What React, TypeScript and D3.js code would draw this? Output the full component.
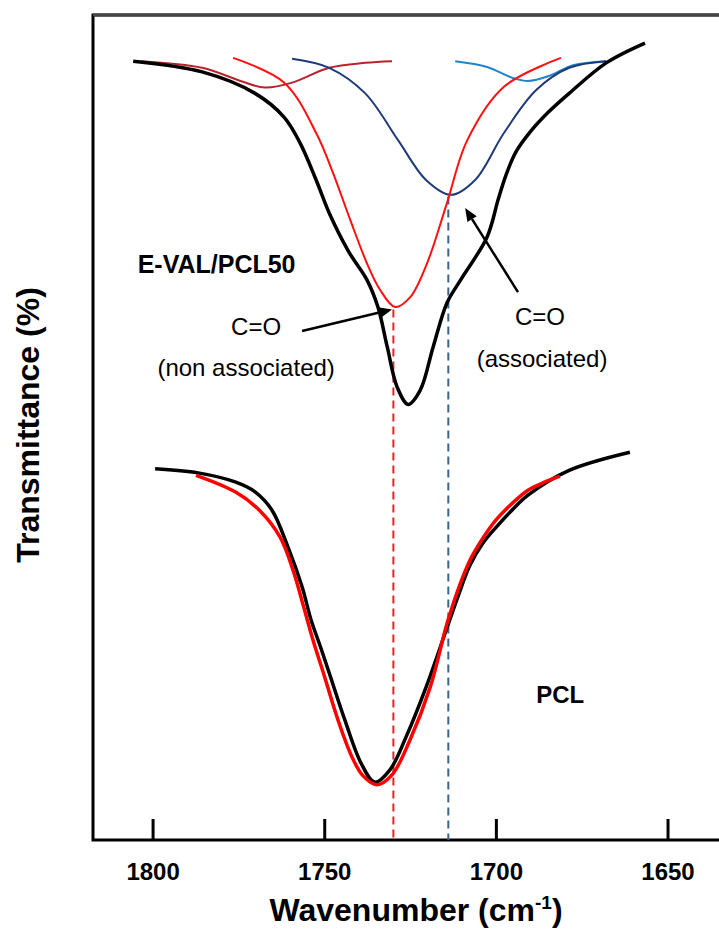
import React from 'react';
import * as d3 from 'd3';

// wavenumber (cm-1) / transmittance (arb. %)
const evalWn = [1805.8, 1785.7, 1770.3, 1761.8, 1757.2, 1752.5, 1748.7, 1743.0, 1737.7, 1734.5, 1731.8, 1728.9, 1725.7, 1722.2, 1718.4, 1714.4, 1710.4, 1702.7, 1699.5, 1697.2, 1694.3, 1690.2, 1684.9, 1678.8, 1668.0, 1656.7];
const evalT = [94.4, 93.1, 90.5, 87.6, 84.5, 80.0, 76.0, 71.3, 67.9, 64.6, 59.8, 54.9, 52.8, 54.5, 59.8, 65.1, 67.9, 73.1, 77.6, 80.6, 83.4, 85.8, 88.2, 90.5, 94.2, 96.6];

const nonAssocWn = [1776.7, 1761.8, 1752.5, 1747.9, 1742.6, 1737.7, 1733.9, 1729.5, 1725.1, 1720.2, 1714.4, 1708.5, 1697.8, 1681.2];
const nonAssocT = [94.8, 91.8, 85.7, 81.2, 75.2, 69.9, 66.7, 64.6, 65.8, 69.9, 77.2, 84.8, 91.3, 94.8];

const assocWn = [1759.5, 1748.7, 1738.2, 1728.6, 1720.5, 1713.2, 1706.2, 1697.8, 1688.4, 1678.8, 1668.0];
const assocT = [94.7, 93.6, 90.5, 84.8, 80.0, 78.2, 80.0, 85.7, 90.9, 93.6, 94.4];

const band1770Wn = [1803.5, 1785.7, 1773.8, 1767.4, 1759.5, 1748.7, 1738.2, 1730.4];
const band1770T = [94.4, 93.6, 91.9, 91.2, 91.8, 93.6, 94.2, 94.4];

const band1690Wn = [1712.0, 1702.7, 1695.4, 1690.8, 1684.7, 1677.7, 1668.0];
const band1690T = [94.4, 93.7, 92.4, 92.0, 92.6, 93.9, 94.4];

const pclWn = [1799.4, 1786.9, 1776.1, 1770.3, 1765.4, 1760.7, 1756.6, 1754.0, 1751.4, 1748.5, 1744.1, 1739.4, 1735.4, 1731.0, 1726.3, 1720.5, 1714.4, 1711.2, 1707.7, 1703.9, 1700.1, 1695.4, 1690.8, 1678.8, 1661.1];
const pclT = [45.0, 44.5, 43.4, 42.2, 40.0, 35.5, 30.7, 26.7, 23.6, 20.0, 14.5, 9.3, 7.0, 8.5, 12.5, 18.5, 25.7, 29.5, 33.3, 36.0, 37.9, 40.0, 41.8, 44.8, 47.0];

const pclFitWn = [1787.5, 1776.1, 1769.1, 1763.0, 1759.0, 1756.3, 1753.4, 1750.2, 1746.1, 1742.1, 1738.9, 1734.8, 1730.4, 1725.2, 1719.3, 1714.4, 1711.2, 1707.7, 1703.9, 1700.1, 1695.4, 1690.8, 1685.8, 1681.5];
const pclFitT = [44.2, 42.2, 40.0, 36.7, 32.4, 28.5, 24.2, 20.0, 14.5, 10.1, 7.8, 6.7, 7.9, 12.1, 18.5, 26.2, 30.3, 33.9, 36.6, 38.8, 40.8, 42.4, 43.4, 44.1];

const xTicks = [1800, 1750, 1700, 1650];

// peak markers: [wavenumber, top transmittance]
const nonAssocPeak = [1730, 64.3];
const assocPeak = [1714, 78.0];

const W = 719;
const H = 939;
const plotLeft = 93;
const plotTop = 15;
const plotBottom = 840;

const App = () => {
    const x = d3.scaleLinear().domain([1817.5, 1630]).range([plotLeft, plotLeft + 187.5 * 3.433]);
    const y = d3.scaleLinear().domain([0, 100]).range([plotBottom, plotTop]);

    const line = d3.line<[number, number]>()
        .x(d => x(d[0]))
        .y(d => y(d[1]))
        .curve(d3.curveCatmullRom.alpha(0.5));

    const zip = (a: number[], b: number[]) => a.map((v, i) => [v, b[i]] as [number, number]);

    const font = 'Liberation Sans, Arial, sans-serif';

    // simple arrow: line with filled head at the tip
    const arrow = (t0: number[], t1: number[], key: string) => {
        const x0 = x(t0[0]), y0 = y(t0[1]);
        const x1 = x(t1[0]), y1 = y(t1[1]);
        const a = Math.atan2(y1 - y0, x1 - x0);
        const len = 13, half = 5.5;
        const bx = x1 - len * Math.cos(a), by = y1 - len * Math.sin(a);
        const p1 = [bx + half * Math.sin(a), by - half * Math.cos(a)];
        const p2 = [bx - half * Math.sin(a), by + half * Math.cos(a)];
        return (
            <g key={key}>
                <line x1={x0} y1={y0} x2={bx} y2={by} stroke="#000" strokeWidth={2.5} />
                <polygon points={`${x1},${y1} ${p1[0]},${p1[1]} ${p2[0]},${p2[1]}`} fill="#000" />
            </g>
        );
    };

    return (
        <svg width={W} height={H} style={{ position: 'absolute', left: 0, top: 0, background: '#fff' }} fontFamily={font}>
            {/* frame (right side runs off the picture) */}
            <path d={`M${W + 5},${plotTop} H${plotLeft} V${plotBottom} H${W + 5}`} fill="none" stroke="#000" strokeWidth={3} />
            <line x1={plotLeft} x2={W + 5} y1={plotTop} y2={plotTop} stroke="#444" strokeWidth={3} />

            {xTicks.map(t => (
                <g key={t}>
                    <line x1={x(t)} x2={x(t)} y1={plotBottom} y2={plotBottom - 21} stroke="#000" strokeWidth={3} />
                    <text x={x(t)} y={880} textAnchor="middle" fontSize={24} fontWeight="bold">{t}</text>
                </g>
            ))}

            {/* peak position guides */}
            <line x1={x(nonAssocPeak[0])} x2={x(nonAssocPeak[0])} y1={y(nonAssocPeak[1])} y2={plotBottom} stroke="#e8212a" strokeWidth={2} strokeDasharray="8,5" />
            <line x1={x(assocPeak[0])} x2={x(assocPeak[0])} y1={y(assocPeak[1])} y2={plotBottom} stroke="#3b6591" strokeWidth={2} strokeDasharray="8,5" />

            {/* E-VAL/PCL50 deconvolution */}
            <path d={line(zip(band1770Wn, band1770T)) || ''} fill="none" stroke="#b8232b" strokeWidth={2} />
            <path d={line(zip(band1690Wn, band1690T)) || ''} fill="none" stroke="#2184c8" strokeWidth={2} />
            <path d={line(zip(assocWn, assocT)) || ''} fill="none" stroke="#1f3a7a" strokeWidth={2} />
            <path d={line(zip(nonAssocWn, nonAssocT)) || ''} fill="none" stroke="#ff1010" strokeWidth={2} />
            <path d={line(zip(evalWn, evalT)) || ''} fill="none" stroke="#000" strokeWidth={3.5} />

            {/* PCL */}
            <path d={line(zip(pclWn, pclT)) || ''} fill="none" stroke="#000" strokeWidth={3.5} />
            <path d={line(zip(pclFitWn, pclFitT)) || ''} fill="none" stroke="#ff0000" strokeWidth={3.5} />

            {arrow([1756.6, 61.7], [1730.4, 64.3], 'a1')}
            {arrow([1693.7, 66.4], [1709.1, 76.6], 'a2')}

            <text x={x(1804.5)} y={y(68.7)} fontSize={25} fontWeight="bold">E-VAL/PCL50</text>
            <text x={x(1770)} y={y(61.2)} fontSize={24} textAnchor="middle">C=O</text>
            <text x={x(1772.9)} y={y(56.2)} fontSize={24} textAnchor="middle">(non associated)</text>
            <text x={x(1687.3)} y={y(62.4)} fontSize={24} textAnchor="middle">C=O</text>
            <text x={x(1686.7)} y={y(57.3)} fontSize={24} textAnchor="middle">(associated)</text>
            <text x={x(1681.4)} y={y(16.6)} fontSize={24} fontWeight="bold" textAnchor="middle">PCL</text>

            <text x={416} y={921} fontSize={32} fontWeight="bold" textAnchor="middle">
                Wavenumber (cm<tspan fontSize={19} dy={-12}>-1</tspan><tspan dy={12}>)</tspan>
            </text>
            <text transform={`translate(39,${425}) rotate(-90)`} fontSize={32} fontWeight="bold" textAnchor="middle">Transmittance (%)</text>
        </svg>
    );
};

export default App;
